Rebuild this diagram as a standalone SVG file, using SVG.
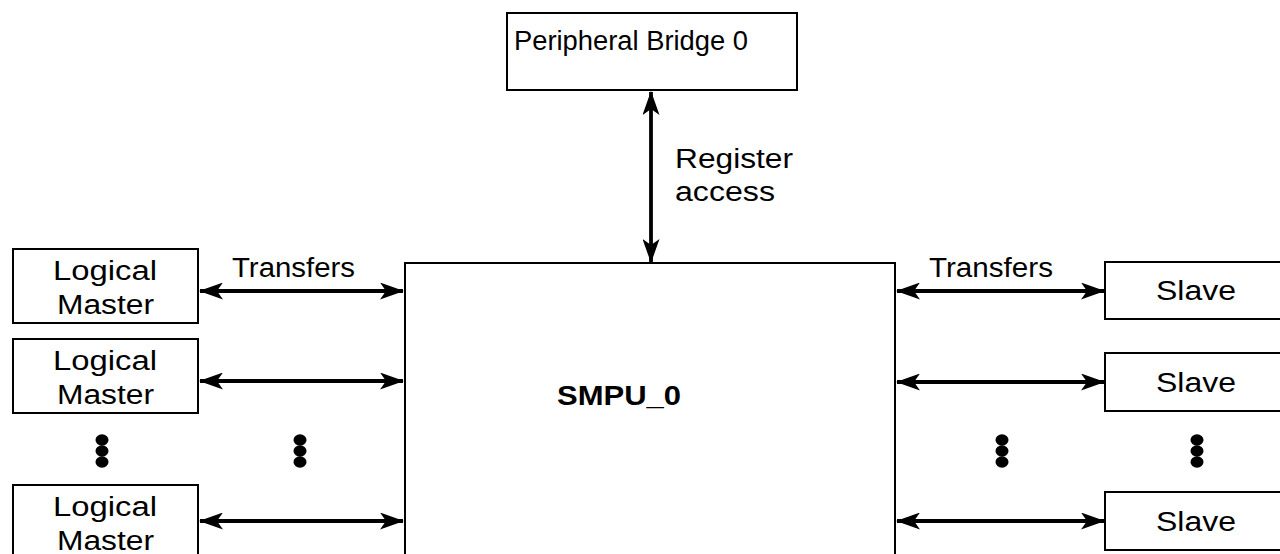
<svg xmlns="http://www.w3.org/2000/svg" width="1280" height="554" viewBox="0 0 1280 554">
  <style>
    .box { fill: #fff; stroke: #000; stroke-width: 2; }
    .t { font-family: "Liberation Sans", Arial, sans-serif; font-size: 27px; fill: #000; }
    .tb { font-family: "Liberation Sans", Arial, sans-serif; font-size: 28px; font-weight: bold; fill: #000; }
    .conn { stroke: #000; stroke-width: 3.8; fill: none; marker-start: url(#ah); marker-end: url(#ah); }
    .dot { fill: #000; }
  </style>
  <defs>
    <marker id="ah" markerUnits="userSpaceOnUse" markerWidth="24" markerHeight="17" viewBox="0 0 24 17" refX="23" refY="8.5" orient="auto-start-reverse">
      <path d="M0,0 L24,8.5 L0,17 L6,8.5 Z" fill="#000"/>
    </marker>
  </defs>
  <rect width="1280" height="554" fill="#fff"/>

  <g id="bridge">
    <rect class="box" x="507" y="13" width="290" height="77"/>
    <text class="t" x="514" y="50" font-size="23" textLength="234" lengthAdjust="spacingAndGlyphs">Peripheral Bridge 0</text>
  </g>

  <g id="smpu">
    <rect class="box" x="405" y="263" width="490" height="310"/>
    <text class="tb" x="557" y="405" textLength="124" lengthAdjust="spacingAndGlyphs">SMPU_0</text>
  </g>

  <g id="master1">
    <rect class="box" x="13" y="249" width="185" height="74"/>
    <text class="t" x="53" y="280" textLength="104" lengthAdjust="spacingAndGlyphs">Logical</text>
    <text class="t" x="57" y="314" textLength="97" lengthAdjust="spacingAndGlyphs">Master</text>
  </g>
  <g id="master2">
    <rect class="box" x="13" y="339" width="185" height="74"/>
    <text class="t" x="53" y="370" textLength="104" lengthAdjust="spacingAndGlyphs">Logical</text>
    <text class="t" x="57" y="404" textLength="97" lengthAdjust="spacingAndGlyphs">Master</text>
  </g>
  <g id="master3">
    <rect class="box" x="13" y="485" width="185" height="80"/>
    <text class="t" x="53" y="516" textLength="104" lengthAdjust="spacingAndGlyphs">Logical</text>
    <text class="t" x="57" y="550" textLength="97" lengthAdjust="spacingAndGlyphs">Master</text>
  </g>

  <g id="slave1">
    <rect class="box" x="1105" y="262" width="190" height="57"/>
    <text class="t" x="1156" y="300" textLength="80" lengthAdjust="spacingAndGlyphs">Slave</text>
  </g>
  <g id="slave2">
    <rect class="box" x="1105" y="353" width="190" height="58"/>
    <text class="t" x="1156" y="392" textLength="80" lengthAdjust="spacingAndGlyphs">Slave</text>
  </g>
  <g id="slave3">
    <rect class="box" x="1105" y="492" width="190" height="58"/>
    <text class="t" x="1156" y="531" textLength="80" lengthAdjust="spacingAndGlyphs">Slave</text>
  </g>

  <g id="ellipses">
    <ellipse class="dot" cx="102" cy="440" rx="6.5" ry="5.8"/>
    <ellipse class="dot" cx="102" cy="451" rx="6.5" ry="5.8"/>
    <ellipse class="dot" cx="102" cy="462" rx="6.5" ry="5.8"/>
    <ellipse class="dot" cx="300" cy="440" rx="6.5" ry="5.8"/>
    <ellipse class="dot" cx="300" cy="451" rx="6.5" ry="5.8"/>
    <ellipse class="dot" cx="300" cy="462" rx="6.5" ry="5.8"/>
    <ellipse class="dot" cx="1002" cy="440" rx="6.5" ry="5.8"/>
    <ellipse class="dot" cx="1002" cy="451" rx="6.5" ry="5.8"/>
    <ellipse class="dot" cx="1002" cy="462" rx="6.5" ry="5.8"/>
    <ellipse class="dot" cx="1197" cy="440" rx="6.5" ry="5.8"/>
    <ellipse class="dot" cx="1197" cy="451" rx="6.5" ry="5.8"/>
    <ellipse class="dot" cx="1197" cy="462" rx="6.5" ry="5.8"/>
  </g>

  <g id="connectors">
    <line class="conn" x1="200" y1="291" x2="403" y2="291"/>
    <line class="conn" x1="200" y1="381" x2="403" y2="381"/>
    <line class="conn" x1="200" y1="521" x2="403" y2="521"/>
    <line class="conn" x1="897" y1="291" x2="1104" y2="291"/>
    <line class="conn" x1="897" y1="382" x2="1104" y2="382"/>
    <line class="conn" x1="897" y1="521" x2="1104" y2="521"/>
    <line class="conn" x1="651" y1="92" x2="651" y2="262"/>
    <text class="t" x="675" y="168" textLength="118" lengthAdjust="spacingAndGlyphs">Register</text>
    <text class="t" x="675" y="201" textLength="100" lengthAdjust="spacingAndGlyphs">access</text>
    <text class="t" x="232" y="277" textLength="123" lengthAdjust="spacingAndGlyphs">Transfers</text>
    <text class="t" x="929" y="277" textLength="124" lengthAdjust="spacingAndGlyphs">Transfers</text>
  </g>
</svg>
